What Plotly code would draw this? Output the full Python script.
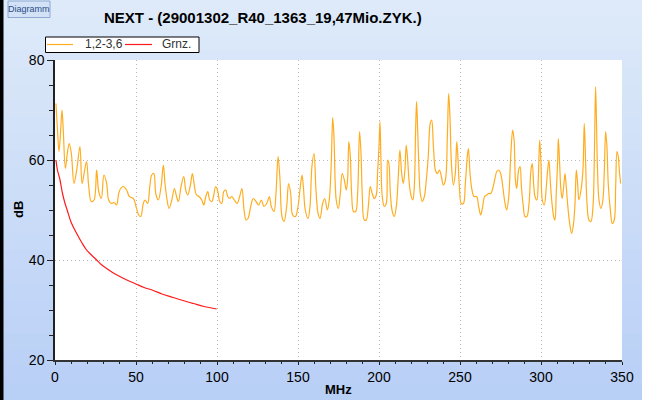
import plotly.graph_objects as go

freq_mhz = [
    0.6, 1.4, 2.5, 3.5, 4.3, 5.1, 6.4, 7.6, 8.8, 10.1, 11.7, 13.4, 15.4, 16.7,
    18.3, 19.5, 20.8, 22.4, 24.1, 25.7, 27.0, 28.6, 30.2, 31.9, 33.1, 34.8,
    36.4, 38.0, 39.3, 40.5, 42.2, 44.2, 45.9, 48.4, 50.0, 51.6, 52.9, 54.5,
    55.6, 57.2, 58.5, 59.7, 61.0, 62.2, 63.8, 65.5, 66.9, 67.9, 69.2, 70.4,
    72.1, 73.7, 75.0, 76.2, 77.8, 79.5, 80.7, 81.9, 83.6, 84.8, 86.1, 87.3,
    88.9, 90.6, 91.8, 93.1, 94.3, 95.5, 96.8, 98.0, 99.2, 100.5, 101.7, 102.9,
    104.2, 105.4, 106.6, 107.9, 109.1, 110.7, 112.4, 114.0,
    115.4, 116.7, 117.9, 119.1, 120.8, 122.4, 124.1, 125.7, 127.4, 129.0,
    130.7, 132.3, 133.5, 135.2, 136.4, 137.7, 138.9, 140.1, 141.4, 143.0,
    144.2, 145.5, 146.7, 148.4, 150.0, 151.2, 152.5, 153.3, 154.5, 156.2,
    157.4, 158.6, 159.9, 161.1, 162.4, 163.6, 165.2, 166.5, 168.1, 169.3,
    170.6, 171.4, 172.2,
    173.6, 174.9, 176.1, 177.3, 178.6, 179.8, 180.6, 181.4, 182.3, 183.1,
    184.3, 185.6, 186.8, 188.0, 188.9, 189.7, 190.9, 192.1, 193.4, 194.6,
    195.8, 197.1, 198.3, 199.1, 200.0, 200.6, 201.2, 202.0, 203.3, 204.5,
    205.3, 206.1, 207.0, 208.2, 209.4, 210.7, 211.9, 212.9, 214.0, 215.0,
    216.0, 216.8, 217.7, 218.5, 219.7, 220.9, 221.8, 222.6, 223.2, 223.8,
    224.7, 225.5, 226.7, 228.0, 229.2, 230.4, 231.6, 232.5,
    233.6, 234.8, 236.0, 237.3, 238.5, 239.7, 241.0, 242.2, 243.0, 243.8,
    244.7, 245.9, 247.1, 248.0, 248.8, 249.6, 250.8, 252.1, 253.3, 254.5,
    255.2, 256.2, 257.4, 258.7, 260.3, 261.5, 262.8, 264.0, 265.2, 266.5,
    267.7, 269.0, 270.2, 271.4, 272.7, 273.9, 275.1, 276.4, 277.6, 278.8,
    280.1, 281.3, 282.5, 283.4, 284.2, 285.0, 286.2, 287.1, 287.9, 289.1,
    290.1, 291.3, 292.6, 293.8, 294.6, 295.5, 296.3, 297.5, 298.3, 299.2,
    300.0, 300.8, 302.0, 303.3, 304.1, 304.9, 305.7, 306.6, 307.8, 308.6,
    309.4, 310.3, 310.7, 311.5, 312.3, 313.1, 314.0, 314.8, 315.6, 316.4,
    317.7, 318.9, 320.1, 321.0, 321.8, 322.6, 323.4, 324.7, 325.9, 326.7,
    327.5, 328.4, 329.6, 330.8, 332.1, 332.9, 333.7, 334.3, 334.9, 335.8,
    337.0, 338.2, 339.1, 339.9, 340.7, 341.5, 342.8, 344.0, 345.2, 346.1,
    346.9, 347.7, 348.5, 349.2,
]
next_db = [
    71.3, 66.7, 61.7, 66.0, 70.0, 66.0, 58.3, 61.3, 63.3, 61.3, 55.3, 58.0, 62.7, 55.3,
    58.0, 59.7, 54.7, 51.7, 52.0, 58.0, 53.7, 52.3, 57.0, 55.3, 52.0, 51.3,
    51.5, 51.0, 53.3, 54.3, 54.7, 54.0, 52.7, 52.3, 50.7, 49.0, 48.7, 51.3,
    52.0, 51.3, 54.7, 57.0, 57.3, 53.3, 52.0, 54.7, 59.0, 55.3, 52.0, 50.3,
    52.0, 54.3, 52.7, 51.7, 54.7, 56.7, 54.0, 53.0, 55.0, 57.3, 54.7, 53.0,
    52.7, 52.0, 51.0, 52.7, 53.7, 52.0, 51.7, 53.0, 54.7, 53.7, 51.7, 51.3,
    53.7, 54.0, 52.7, 52.3, 52.7, 52.0, 51.3, 52.7,
    54.3, 50.0, 48.0, 48.3, 50.7, 52.3, 51.7, 51.0, 52.0, 50.7,
    51.3, 52.7, 50.7, 49.7, 53.3, 60.7, 56.0, 48.7, 47.7, 50.7,
    55.3, 53.3, 49.0, 48.7, 50.7, 54.0, 57.0, 54.7, 50.0, 48.3,
    50.7, 58.7, 61.3, 54.0, 49.3, 48.3, 51.3, 52.3, 50.0, 52.0,
    60.0, 68.5, 64.7,
    52.0, 50.3, 53.3, 57.3, 56.0, 54.0, 56.0, 63.7, 60.7, 53.3,
    49.7, 49.7, 53.3, 65.7, 61.3, 52.7, 48.0, 48.0, 50.7, 54.7,
    53.3, 52.3, 53.0, 57.3, 62.7, 67.7, 60.0, 52.7, 50.7, 51.3,
    60.0, 59.3, 53.3, 49.7, 48.7, 50.7, 56.7, 62.0, 57.3, 55.3,
    58.0, 63.0, 60.0, 56.0, 53.0, 52.0, 54.7, 66.0, 71.7, 66.7,
    58.0, 53.3, 51.7, 52.7, 56.0, 60.7, 67.3, 68.0,
    62.7, 58.0, 57.3, 58.0, 56.7, 55.0, 56.0, 64.7, 73.3, 68.7,
    59.3, 55.0, 57.3, 63.7, 60.0, 54.7, 51.3, 51.3, 55.3, 60.7,
    62.3, 57.3, 54.0, 52.7, 52.7, 50.7, 49.0, 50.7, 52.7, 53.0,
    53.3, 53.3, 54.3, 56.0, 57.7, 58.0, 57.3, 54.7, 51.7, 50.0,
    52.7, 60.7, 66.0, 64.0, 56.0, 54.3, 58.0, 58.7, 54.7, 50.7,
    48.7, 48.7, 51.3, 58.0, 59.3, 55.0, 52.7, 52.0, 56.0, 64.0,
    59.3, 52.0, 51.0, 54.7, 58.0, 60.0, 56.0, 52.0, 48.7, 48.0,
    53.3, 60.0, 64.3, 59.3, 54.0, 52.3, 54.7, 57.3, 54.7, 51.3,
    47.3, 45.3, 47.3, 51.3, 58.0, 55.3, 52.0, 54.0, 58.0, 67.3,
    60.0, 51.3, 48.0, 47.7, 50.7, 60.0, 74.7, 66.7, 58.0, 52.0,
    50.3, 52.0, 58.0, 65.7, 62.7, 55.3, 50.0, 47.3, 48.0, 54.7,
    61.7, 60.7, 57.3, 55.3,
]

# Limit line ("Grnz."), only up to 100 MHz
limit_mhz = [0.6, 1.5, 3.1, 4.5, 6.2, 7.5, 10.0, 13.4, 16.5, 19.5, 22.5, 25.7,
             28.5, 31.9, 36.0, 40.0, 45.0, 50.0, 55.0, 60.7, 66.0, 73.0, 79.0,
             85.4, 92.0, 99.8]
limit_db = [60.0, 58.0, 56.0, 53.5, 51.3, 50.0, 47.5, 45.3, 43.5, 42.0, 41.0, 40.0,
            39.1, 38.3, 37.4, 36.7, 35.9, 35.2, 34.5, 33.9, 33.2, 32.5, 31.9,
            31.3, 30.7, 30.2]

series_names = ["1,2-3,6", "Grnz."]
series_colors = ["#FFAD1F", "#FF1A1A"]

W, H = 645, 400
L, R, T, B = 55, 622, 60, 360  # plot area in pixels
FONT = "Liberation Sans, Arial"


def px_x(x):
    return (x - L) / (R - L)


def px_y(y):
    return (B - y) / (B - T)


fig = go.Figure()
fig.add_trace(go.Scatter(x=freq_mhz, y=next_db, mode="lines", name=series_names[0],
                         line=dict(color=series_colors[0], width=1.2,
                                   shape="spline", smoothing=1.0)))
fig.add_trace(go.Scatter(x=limit_mhz, y=limit_db, mode="lines", name=series_names[1],
                         line=dict(color=series_colors[1], width=1.2,
                                   shape="spline")))

# background gradient (light blue), drawn as bands
shapes = []
n = 24
top_c, bot_c = (0xDE, 0xEA, 0xF9), (0xB8, 0xCF, 0xF6)
for i in range(n):
    t = i / (n - 1)
    c = tuple(round(a + (b - a) * t) for a, b in zip(top_c, bot_c))
    y0 = H * i / n
    y1 = H * (i + 1) / n + 1
    shapes.append(dict(type="rect", xref="paper", yref="paper", layer="below",
                       x0=px_x(0), x1=px_x(W), y0=px_y(y1), y1=px_y(y0),
                       line=dict(width=0), fillcolor="rgb(%d,%d,%d)" % c))
# white plot area
shapes.append(dict(type="rect", xref="paper", yref="paper", layer="below",
                   x0=0, x1=1, y0=0, y1=1, line=dict(width=0), fillcolor="white"))
# black bar on the left edge, white strip on the right
shapes.append(dict(type="rect", xref="paper", yref="paper", layer="below",
                   x0=px_x(0), x1=px_x(3.5), y0=px_y(H), y1=px_y(0),
                   line=dict(width=0), fillcolor="black"))
shapes.append(dict(type="rect", xref="paper", yref="paper", layer="below",
                   x0=px_x(642), x1=px_x(W), y0=px_y(H), y1=px_y(0),
                   line=dict(width=0), fillcolor="white"))
# "Diagramm" button
shapes.append(dict(type="rect", xref="paper", yref="paper", layer="below",
                   x0=px_x(8), x1=px_x(50), y0=px_y(17.5), y1=px_y(1),
                   line=dict(width=1, color="#8FA9D0"), fillcolor="#D3E2F7"))

# legend box drawn by hand (plotly's own legend is taller than the original)
shapes.append(dict(type="rect", xref="paper", yref="paper",
                   x0=px_x(45.5), x1=px_x(199), y0=px_y(52.5), y1=px_y(37),
                   line=dict(width=1, color="black"), fillcolor="white"))
legend_items = [(47, 73, 83), (125, 152, 160)]
annotations = []
for (lx0, lx1, tx), name, color in zip(legend_items, series_names, series_colors):
    shapes.append(dict(type="line", xref="paper", yref="paper",
                       x0=px_x(lx0), x1=px_x(lx1), y0=px_y(44.5), y1=px_y(44.5),
                       line=dict(width=1.2, color=color)))
    annotations.append(dict(text=name, x=px_x(tx), y=px_y(44.5), xref="paper",
                            yref="paper", xanchor="left", yanchor="middle",
                            showarrow=False,
                            font=dict(size=12, color="#333333", family=FONT)))

annotations += [
    dict(text="Diagramm", x=px_x(29), y=px_y(9), xref="paper", yref="paper",
         xanchor="center", yanchor="middle", showarrow=False,
         font=dict(size=9, color="#2B4C86", family=FONT)),
    dict(text="<b>NEXT - (29001302_R40_1363_19,47Mio.ZYK.)</b>", x=px_x(263),
         y=px_y(17), xref="paper", yref="paper", xanchor="center",
         yanchor="middle", showarrow=False,
         font=dict(size=15, color="black", family=FONT)),
    dict(text="<b>dB</b>", x=px_x(18), y=px_y(210), xref="paper", yref="paper",
         xanchor="center", yanchor="middle", showarrow=False, textangle=-90,
         font=dict(size=13, color="black", family=FONT)),
    dict(text="<b>MHz</b>", x=px_x(338), y=px_y(389), xref="paper", yref="paper",
         xanchor="center", yanchor="middle", showarrow=False,
         font=dict(size=13, color="black", family=FONT)),
]

fig.update_layout(
    width=W, height=H,
    margin=dict(l=L, r=W - R, t=T, b=H - B, pad=0),
    paper_bgcolor="#C9DBF7",
    plot_bgcolor="white",
    font=dict(family=FONT, size=14, color="black"),
    shapes=shapes,
    annotations=annotations,
    showlegend=False,
    hovermode=False,
    xaxis=dict(range=[0, 350], dtick=50, tick0=0, showgrid=True,
               gridcolor="#B8B8B8", griddash="1px,3px", gridwidth=1,
               ticks="outside", ticklen=3, tickcolor="#222222", tickwidth=1,
               minor=dict(dtick=10, ticks="outside", ticklen=2,
                          tickcolor="#222222", showgrid=False),
               showline=True, linecolor="#333333", linewidth=1.5,
               zeroline=False, tickfont=dict(size=14)),
    xaxis2=dict(range=[0, 350], dtick=50, tick0=0, overlaying="x", side="top",
                anchor="y", showgrid=False, showticklabels=False,
                ticks="inside", ticklen=6, tickcolor="#333333",
                minor=dict(dtick=10, ticks="inside", ticklen=4,
                           tickcolor="#333333"),
                showline=True, linecolor="#7A7A7A", linewidth=1.5,
                zeroline=False),
    xaxis3=dict(range=[0, 350], dtick=50, tick0=0, overlaying="x", side="bottom",
                anchor="y", showgrid=False, showticklabels=False,
                ticks="inside", ticklen=6, tickcolor="#222222",
                minor=dict(dtick=10, ticks="inside", ticklen=3,
                           tickcolor="#222222"),
                showline=False, zeroline=False),
    yaxis=dict(range=[20, 80], dtick=20, tick0=20, showgrid=True,
               gridcolor="#B8B8B8", griddash="1px,3px", gridwidth=1,
               ticks="outside", ticklen=6, tickcolor="#222222",
               minor=dict(dtick=5, ticks="outside", ticklen=4,
                          tickcolor="#222222", showgrid=False),
               showline=True, linecolor="#222222", linewidth=1.5,
               zeroline=False, tickfont=dict(size=14)),
    yaxis2=dict(range=[20, 80], dtick=5, tick0=20, overlaying="y", side="right",
                anchor="x", showgrid=False, showticklabels=False,
                ticks="inside", ticklen=4, tickcolor="#555555",
                showline=True, linecolor="#7A7A7A", linewidth=2.5,
                zeroline=False),
)

# the page's default body margin would shift the figure by 8px
fig.write_html("out.html", config={"displayModeBar": False},
               post_script="document.body.style.margin='0px';")
